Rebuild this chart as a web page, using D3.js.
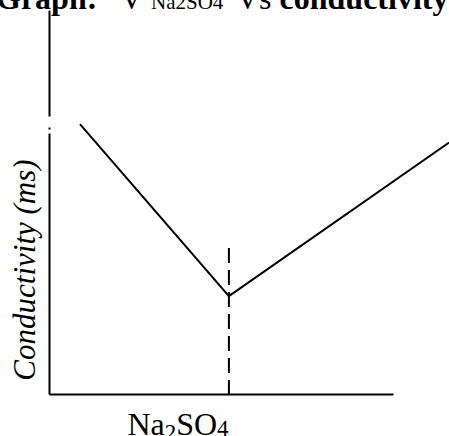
<!DOCTYPE html>
<html>
<head>
<meta charset="utf-8">
<script src="https://cdn.jsdelivr.net/npm/d3@7"></script>
<style>
  html, body { margin: 0; padding: 0; background: #fff; }
  svg { display: block; }
  text { font-family: "Liberation Serif", "Times New Roman", serif; fill: #000; }
</style>
</head>
<body>
<svg id="chart" width="449" height="436"></svg>
<script>
// Conductometric titration: volume of Na2SO4 added vs conductivity
const volume = [0.9, 5.23, 11.63];          // arbitrary volume units
const conductivity = [7.03, 2.55, 6.55];    // ms, arbitrary scale
const equivalenceVolume = 5.23;
const equivalenceMarkTop = 3.8;             // top of the dashed guide

const xDomain = [0, 10];
const yDomain = [0, 10];

const svg = d3.select("#chart");
const W = 449, H = 436;
const margin = { left: 49, right: 56, top: 10, bottom: 42 };

const x = d3.scaleLinear().domain(xDomain).range([margin.left, W - margin.right]);
const y = d3.scaleLinear().domain(yDomain).range([H - margin.bottom, margin.top]);

// Axes: bare lines, no ticks or labels
const xAxis = svg.append("g")
  .attr("transform", `translate(0,${y(0)})`)
  .call(d3.axisBottom(x).tickValues([]).tickSizeOuter(0));
xAxis.select(".domain").attr("stroke", "#000").attr("stroke-width", 2);

const yAxis = svg.append("g")
  .attr("transform", `translate(${x(0)},0)`)
  .call(d3.axisLeft(y).tickValues([]).tickSizeOuter(0));
// small break near the top of the vertical axis
yAxis.select(".domain")
  .attr("stroke", "#000")
  .attr("stroke-width", 2)
  .attr("stroke-dasharray", "261,4,2,11,400");

// Conductivity curve: falling branch then rising branch
const pts = volume.map((v, i) => [v, conductivity[i]]);
svg.append("path")
  .datum(pts)
  .attr("fill", "none")
  .attr("stroke", "#000")
  .attr("stroke-width", 2)
  .attr("d", d3.line().x(d => x(d[0])).y(d => y(d[1])));

// Dashed guide at the equivalence point
svg.append("line")
  .attr("x1", x(equivalenceVolume)).attr("x2", x(equivalenceVolume))
  .attr("y1", y(equivalenceMarkTop)).attr("y2", y(0))
  .attr("stroke", "#000")
  .attr("stroke-width", 2)
  .attr("stroke-dasharray", "15,7");

// Title
const title = svg.append("g");
title.append("text").attr("x", -4).attr("y", 9)
  .attr("font-size", 32).attr("font-weight", "bold").text("Graph:");
title.append("text").attr("x", 120).attr("y", 9)
  .attr("font-size", 32).text("V");
title.append("text").attr("x", 151).attr("y", 9)
  .attr("font-size", 21).text("Na2SO4");
const t2 = title.append("text").attr("x", 236).attr("y", 9).attr("font-size", 32);
t2.append("tspan").text("Vs ");
t2.append("tspan").attr("font-weight", "bold").text("conductivity");

// Y axis label
svg.append("text")
  .attr("transform", `translate(35,270) rotate(-90)`)
  .attr("text-anchor", "middle")
  .attr("font-size", 31)
  .attr("font-style", "italic")
  .text("Conductivity (ms)");

// X axis label with subscripts
const xl = svg.append("text")
  .attr("x", 178).attr("y", 435)
  .attr("text-anchor", "middle")
  .attr("font-size", 32);
xl.append("tspan").text("Na");
xl.append("tspan").attr("font-size", 23).attr("dy", 5).text("2");
xl.append("tspan").attr("dy", -5).text("SO");
xl.append("tspan").attr("font-size", 23).attr("dy", 1).text("4");
</script>
</body>
</html>
